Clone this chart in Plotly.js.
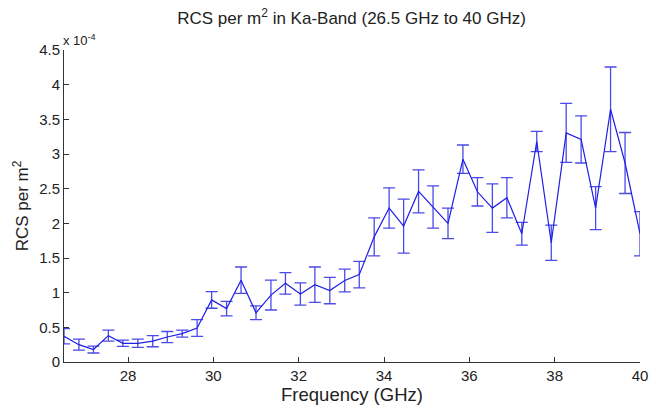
<!DOCTYPE html>
<html>
<head>
<meta charset="utf-8">
<script src="https://cdn.plot.ly/plotly-3.0.1.min.js"></script>
<style>html,body{margin:0;padding:0;background:#fff;}#chart{width:651px;height:412px;}</style>
</head>
<body>
<div id="chart"></div>
<script>
// Frequency samples (GHz)
const freqGHz = [26.50, 26.85, 27.19, 27.54, 27.88, 28.23, 28.58, 28.92, 29.27, 29.62,
                 29.96, 30.31, 30.65, 31.00, 31.35, 31.69, 32.04, 32.38, 32.73, 33.08,
                 33.42, 33.77, 34.12, 34.46, 34.81, 35.15, 35.50, 35.85, 36.19, 36.54,
                 36.88, 37.23, 37.58, 37.92, 38.27, 38.62, 38.96, 39.31, 39.65, 40.00];
// RCS per m^2, in units of 1e-4
const rcsE4 = [0.37, 0.25, 0.18, 0.38, 0.27, 0.27, 0.30, 0.36, 0.41, 0.49,
               0.895, 0.77, 1.18, 0.71, 0.965, 1.135, 0.98, 1.115, 1.03, 1.175,
               1.26, 1.805, 2.22, 1.96, 2.46, 2.235, 2.00, 2.925, 2.455, 2.22,
               2.37, 1.85, 3.18, 1.72, 3.305, 3.21, 2.22, 3.645, 2.87, 1.85];
// Error (± half-width), in units of 1e-4
const errE4 = [0.11, 0.08, 0.05, 0.08, 0.045, 0.06, 0.08, 0.08, 0.05, 0.12,
               0.12, 0.105, 0.19, 0.10, 0.215, 0.155, 0.16, 0.255, 0.19, 0.165,
               0.19, 0.275, 0.29, 0.39, 0.31, 0.305, 0.22, 0.205, 0.205, 0.35,
               0.29, 0.165, 0.145, 0.255, 0.425, 0.34, 0.31, 0.61, 0.44, 0.32];
const xTicks = [28, 30, 32, 34, 36, 38, 40];
const yTicks = [0, 0.5, 1, 1.5, 2, 2.5, 3, 3.5, 4, 4.5];
const yTickText = ['0', '0.5', '1', '1.5', '2', '2.5', '3', '3.5', '4', '4.5'];

const font = 'Liberation Sans, Arial, sans-serif';

const trace = {
  x: freqGHz, y: rcsE4, type: 'scatter', mode: 'lines',
  line: {color: '#1f1fe6', width: 1.2},
  error_y: {type: 'data', array: errE4, visible: true, color: '#4b4be8', thickness: 1.3, width: 6}
};

const layout = {
  width: 651, height: 412,
  margin: {l: 64, r: 11, t: 50, b: 50},
  paper_bgcolor: '#fff', plot_bgcolor: '#fff',
  showlegend: false,
  font: {family: font, size: 15, color: '#222'},
  title: {text: 'RCS per m<sup>2</sup> in Ka-Band (26.5 GHz to 40 GHz)', x: 0.54, xanchor: 'center', y: 0.955, yanchor: 'middle',
          font: {family: font, size: 17, color: '#222'}},
  xaxis: {range: [26.5, 40], tickvals: xTicks, ticks: 'inside', ticklen: 5, tickcolor: '#333',
          showline: true, linecolor: '#333', linewidth: 1, showgrid: false, zeroline: false, mirror: false,
          tickfont: {family: font, size: 15, color: '#222'},
          title: {text: 'Frequency (GHz)', font: {family: font, size: 18.5, color: '#222'}, standoff: 5}},
  yaxis: {range: [0, 4.5], tickvals: yTicks, ticktext: yTickText, ticks: 'inside', ticklen: 5, tickcolor: '#333',
          showline: true, linecolor: '#333', linewidth: 1, showgrid: false, zeroline: false, mirror: false,
          tickfont: {family: font, size: 15, color: '#222'},
          title: {text: 'RCS per m<sup>2</sup>', font: {family: font, size: 17, color: '#222'}, standoff: 6}},
  annotations: [{text: 'x 10<sup>-4</sup>', xref: 'paper', yref: 'paper', x: -0.005, y: 1.0, xanchor: 'left', yanchor: 'bottom',
                 showarrow: false, font: {family: font, size: 13, color: '#222'}}]
};

Plotly.newPlot('chart', [trace], layout, {displayModeBar: false, staticPlot: true});
</script>
</body>
</html>
